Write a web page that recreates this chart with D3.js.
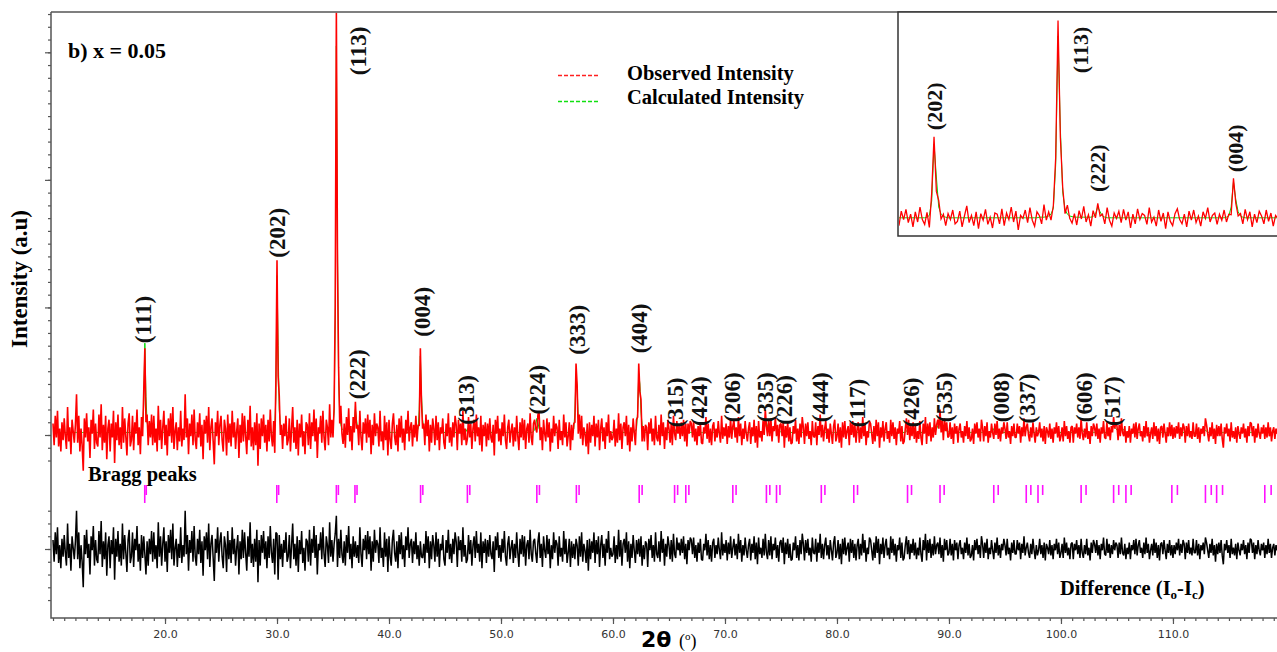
<!DOCTYPE html>
<html>
<head>
<meta charset="utf-8">
<script src="https://cdn.jsdelivr.net/npm/d3@7"></script>
<style>
body { margin: 0; background: #fff; }
svg { display: block; }
</style>
</head>
<body>
<script>
// 2theta grid of the pattern (degrees)
var start2Theta = 10.0;
var step2Theta = 0.1;

// calculated intensity, one row per degree (10.0 .. 119.9), a.u.
var calcIntensity = [
/*10*/ 2,2,2,2,2,2,2,2,2,2,
/*11*/ 2,2,2,2,2,2,2,2,2,2,
/*12*/ 2,2,2,2,2,2,2,2,2,2,
/*13*/ 2,2,2,2,2,2,2,2,2,2,
/*14*/ 2,2,2,2,2,2,2,2,2,2,
/*15*/ 2,2,2,2,2,2,2,2,2,2,
/*16*/ 2,2,2,2,2,2,2,2,2,2,
/*17*/ 2,2,2,2,2,2,2,2,2,3,
/*18*/ 6,24,72,30,10,5,3,2,2,2,
/*19*/ 2,2,2,2,2,2,2,2,2,2,
/*20*/ 2,2,2,2,2,2,2,2,2,2,
/*21*/ 2,2,2,2,2,2,2,2,2,2,
/*22*/ 2,2,2,2,2,2,2,2,2,2,
/*23*/ 2,2,2,2,2,2,2,2,2,2,
/*24*/ 2,2,2,2,2,2,2,2,2,2,
/*25*/ 2,2,2,2,2,2,2,2,2,2,
/*26*/ 2,2,2,2,2,2,2,2,2,2,
/*27*/ 2,2,2,2,2,2,2,2,2,2,
/*28*/ 2,2,2,2,2,2,2,2,2,2,
/*29*/ 2,2,2,2,2,2,2,3,6,30,
/*30*/ 125,70,20,8,4,3,2,2,2,2,
/*31*/ 2,2,2,2,2,2,2,2,2,2,
/*32*/ 2,2,2,2,2,2,2,2,2,2,
/*33*/ 2,2,2,2,2,2,2,2,2,2,
/*34*/ 2,2,2,2,2,3,3,3,4,5,
/*35*/ 8,18,90,305,150,45,16,8,5,4,
/*36*/ 3,3,3,3,3,3,3,3,4,8,
/*37*/ 20,12,5,3,2,2,2,2,2,2,
/*38*/ 2,2,2,2,2,2,2,2,2,2,
/*39*/ 2,2,2,2,2,2,2,2,2,2,
/*40*/ 2,2,2,2,2,2,2,2,2,2,
/*41*/ 2,2,2,2,2,2,2,2,2,2,
/*42*/ 2,2,2,2,2,3,5,20,62,32,
/*43*/ 12,5,3,2,2,2,2,2,2,2,
/*44*/ 2,2,2,2,2,2,2,2,2,2,
/*45*/ 2,2,2,2,2,2,2,2,2,2,
/*46*/ 2,2,2,2,2,2,2,2,2,3,
/*47*/ 5,3,2,2,2,2,2,2,2,2,
/*48*/ 2,2,2,2,2,2,2,2,2,2,
/*49*/ 2,2,2,2,2,2,2,2,2,2,
/*50*/ 2,2,2,2,2,2,2,2,2,2,
/*51*/ 2,2,2,2,2,2,2,2,2,2,
/*52*/ 2,2,2,2,2,2,2,2,2,3,
/*53*/ 4,8,13,10,5,3,2,2,2,2,
/*54*/ 2,2,2,2,2,2,2,2,2,2,
/*55*/ 2,2,2,2,2,2,2,2,2,2,
/*56*/ 2,2,2,2,3,5,18,48,36,14,
/*57*/ 6,3,2,2,2,2,2,2,2,2,
/*58*/ 2,2,2,2,2,2,2,2,2,2,
/*59*/ 2,2,2,2,2,2,2,2,2,2,
/*60*/ 2,2,2,2,2,2,2,2,2,2,
/*61*/ 2,2,2,2,2,2,2,2,2,3,
/*62*/ 3,5,18,48,40,18,8,4,3,2,
/*63*/ 2,2,2,2,2,2,2,2,2,2,
/*64*/ 2,2,2,2,2,2,2,2,2,2,
/*65*/ 2,2,2,2,3,5,3,2,2,2,
/*66*/ 2,2,2,2,3,5,3,2,2,2,
/*67*/ 2,2,2,2,2,2,2,2,2,2,
/*68*/ 2,2,2,2,2,2,2,2,2,2,
/*69*/ 2,2,2,2,2,2,2,2,2,2,
/*70*/ 2,2,2,2,2,3,4,6,4,3,
/*71*/ 2,2,2,2,2,2,2,2,2,2,
/*72*/ 2,2,2,2,2,2,2,2,2,2,
/*73*/ 2,2,2,2,3,5,8,10,7,5,
/*74*/ 4,3,3,3,4,5,6,5,4,3,
/*75*/ 2,2,2,2,2,2,2,2,2,2,
/*76*/ 2,2,2,2,2,2,2,2,2,2,
/*77*/ 2,2,2,2,2,2,2,2,2,2,
/*78*/ 2,2,2,2,3,4,5,4,3,2,
/*79*/ 2,2,2,2,2,2,2,2,2,2,
/*80*/ 2,2,2,2,2,2,2,2,2,2,
/*81*/ 2,2,2,3,4,5,4,3,2,2,
/*82*/ 2,2,2,2,2,2,2,2,2,2,
/*83*/ 2,2,2,2,2,2,2,2,2,2,
/*84*/ 2,2,2,2,2,2,2,2,2,2,
/*85*/ 2,2,2,2,2,2,2,2,2,2,
/*86*/ 2,2,3,4,5,4,3,2,2,2,
/*87*/ 2,2,2,2,2,2,2,2,2,2,
/*88*/ 2,2,2,2,2,2,3,3,4,5,
/*89*/ 7,9,11,9,8,6,5,4,3,3,
/*90*/ 2,2,2,2,2,2,2,2,2,2,
/*91*/ 2,2,2,2,2,2,2,2,2,2,
/*92*/ 2,2,2,2,2,2,2,2,2,2,
/*93*/ 2,2,2,2,2,2,2,2,2,3,
/*94*/ 5,4,3,2,2,2,2,2,2,2,
/*95*/ 2,2,2,2,2,2,2,2,2,2,
/*96*/ 2,2,2,2,2,2,2,3,4,5,
/*97*/ 4,3,2,2,2,2,2,2,3,4,
/*98*/ 3,2,2,2,2,2,2,2,2,2,
/*99*/ 2,2,2,2,2,2,2,2,2,2,
/*100*/ 2,2,2,2,2,2,2,2,2,2,
/*101*/ 2,2,2,2,2,2,3,4,5,4,
/*102*/ 3,2,2,2,2,2,2,2,2,2,
/*103*/ 2,2,2,2,2,2,2,2,2,2,
/*104*/ 2,2,2,2,3,4,6,7,6,5,
/*105*/ 4,3,3,3,4,5,4,3,2,2,
/*106*/ 2,2,2,2,2,2,2,2,2,2,
/*107*/ 2,2,2,2,2,2,2,2,2,2,
/*108*/ 2,2,2,2,2,2,2,2,2,2,
/*109*/ 2,2,2,2,2,2,2,3,4,5,
/*110*/ 4,3,2,2,2,2,2,2,2,2,
/*111*/ 2,2,2,2,2,2,2,2,2,2,
/*112*/ 2,2,2,2,2,2,2,2,3,4,
/*113*/ 3,2,2,2,2,2,2,2,3,4,
/*114*/ 3,2,2,2,2,2,2,2,2,2,
/*115*/ 2,2,2,2,2,2,2,2,2,2,
/*116*/ 2,2,2,2,2,2,2,2,2,2,
/*117*/ 2,2,2,2,2,2,2,2,2,2,
/*118*/ 2,3,4,3,2,2,2,2,2,2,
/*119*/ 2,2,2,2,2,2,2,2,2,2
];

// difference Io - Ic on the same grid, a.u.
var differenceValues = [
/*10*/ 7,-10,13,-4,17,-11,3,-15,8,-6,
/*11*/ 11,-3,-13,20,-7,4,-17,10,1,-8,
/*12*/ 6,30,-8,13,-15,3,-10,-30,11,-4,
/*13*/ 15,-7,4,-20,10,-1,18,-13,7,-8,
/*14*/ -11,14,-4,22,-14,6,-8,13,-21,3,
/*15*/ 10,-15,7,-4,17,-24,8,-6,14,-10,
/*16*/ 4,-13,20,-8,11,-3,-18,7,15,-11,
/*17*/ -6,13,-14,8,-1,18,-10,4,-17,11,
/*18*/ -7,10,-4,-20,6,-13,8,-4,14,-10,
/*19*/ 13,-8,3,-15,21,-6,10,-13,4,17,
/*20*/ -10,6,-18,11,-3,15,-8,20,-13,1,
/*21*/ 8,-14,4,-7,17,-11,3,-6,30,-4,
/*22*/ 11,-17,7,-3,14,-10,18,-6,-13,8,
/*23*/ -4,15,-11,6,-21,10,-1,13,-8,20,
/*24*/ -14,4,11,-7,-25,8,-3,17,-10,6,
/*25*/ 13,-6,-15,10,3,-18,14,-8,7,-11,
/*26*/ 17,-4,8,-13,1,11,-20,6,-8,15,
/*27*/ -7,13,-3,-17,10,-6,21,-11,4,-14,
/*28*/ 8,-10,15,-26,7,-13,11,-3,14,-8,
/*29*/ 6,-15,10,-7,18,-3,-11,8,-20,13,
/*30*/ 12,-24,11,-8,4,-14,7,-3,13,-10,
/*31*/ -6,11,-15,3,20,-8,4,-13,10,-18,
/*32*/ 7,-4,14,-11,1,-17,8,6,-10,15,
/*33*/ -13,8,-3,18,-7,11,-20,4,-1,13,
/*34*/ -8,17,-4,-14,10,3,-11,21,-6,7,
/*35*/ -10,4,12,26,-14,8,-7,15,-4,-11,
/*36*/ 6,-13,11,-3,18,-8,4,-15,10,-6,
/*37*/ 6,-7,3,-11,17,-4,-14,8,-1,11,
/*38*/ -8,14,-4,10,-17,6,-10,15,-3,7,
/*39*/ 4,-11,17,-7,1,-14,13,-6,8,-18,
/*40*/ 10,-6,-13,7,15,-3,-10,6,-15,11,
/*41*/ -4,13,-8,3,-14,10,-1,17,-7,4,
/*42*/ 8,-11,6,-4,13,-8,3,-13,6,-6,
/*43*/ -7,4,-11,14,-3,10,-15,6,-8,11,
/*44*/ 3,-10,13,-6,8,-14,4,-1,11,-8,
/*45*/ -13,7,-3,15,-8,4,-11,8,-4,13,
/*46*/ 6,-14,10,-1,7,-10,17,-6,3,-11,
/*47*/ -8,11,-4,7,-13,3,10,-7,14,-3,
/*48*/ 4,-10,13,-15,6,-3,8,-11,7,-6,
/*49*/ 11,-4,-8,6,-18,10,-1,13,-7,3,
/*50*/ -10,8,-3,14,-6,-13,4,10,-8,1,
/*51*/ 7,-11,4,-7,13,-3,-14,8,-4,11,
/*52*/ -6,10,-13,3,7,-8,15,-4,-10,6,
/*53*/ 8,-3,-11,6,13,-7,4,-14,10,-1,
/*54*/ -7,11,-4,8,-15,3,-8,13,-3,7,
/*55*/ 4,-13,10,-6,1,-10,14,-4,8,-11,
/*56*/ -3,8,-14,6,-7,4,-8,8,3,-13,
/*57*/ 10,-6,13,-10,4,-1,-11,7,-17,8,
/*58*/ -8,6,-3,13,-11,7,-4,10,-14,3,
/*59*/ 11,-7,4,-13,8,-3,14,-8,1,-6,
/*60*/ -4,10,-11,3,-8,15,-6,7,-13,4,
/*61*/ 8,-3,13,-10,6,-15,4,-7,11,-1,
/*62*/ -11,7,-4,8,-6,10,-13,3,-8,6,
/*63*/ 4,-14,8,-1,11,-7,3,-10,13,-4,
/*64*/ -7,6,-10,14,-3,8,-13,4,-6,10,
/*65*/ 3,-8,7,-10,12,-4,-7,9,-1,5,
/*66*/ -5,8,-3,10,-8,4,-12,7,-1,9,
/*67*/ 7,-4,9,-7,3,-10,5,-3,8,-8,
/*68*/ -9,4,-1,12,-5,7,-8,3,-10,5,
/*69*/ 8,-7,3,-4,9,-1,-8,13,-5,4,
/*70*/ -3,7,-9,5,-4,10,-7,1,8,-5,
/*71*/ 4,-8,12,-3,7,-10,3,-5,9,-1,
/*72*/ -7,3,8,-9,4,-3,10,-8,5,-12,
/*73*/ 9,-4,1,-7,8,-5,12,-3,-8,7,
/*74*/ -5,10,-8,4,-1,9,-7,3,-10,5,
/*75*/ 7,-3,9,-12,5,-4,8,-7,4,-9,
/*76*/ -8,5,-1,10,-7,3,-9,7,-4,12,
/*77*/ 4,-9,7,-3,8,-5,1,-10,9,-3,
/*78*/ -4,8,-10,5,-3,12,-7,4,-8,3,
/*79*/ 9,-5,3,-8,7,-1,-9,5,10,-7,
/*80*/ -3,7,-8,4,-12,8,-4,9,-5,1,
/*81*/ 5,-10,8,-3,7,-7,4,-9,3,8,
/*82*/ -8,4,-5,12,-3,7,-10,1,-4,9,
/*83*/ 7,-1,-9,5,-7,10,-3,8,-12,4,
/*84*/ -4,9,-7,3,8,-5,1,-8,10,-3,
/*85*/ 8,-5,4,-10,3,-1,9,-7,5,-9,
/*86*/ -7,3,10,-4,7,-8,4,-3,8,-5,
/*87*/ 5,-8,1,-5,9,-4,-10,7,-1,12,
/*88*/ -9,7,-3,8,-7,4,-5,10,-4,3,
/*89*/ 5,-4,9,-7,3,-10,8,-1,7,-5,
/*90*/ -3,8,-5,4,-9,7,-1,5,-8,3,
/*91*/ 7,-4,1,-8,5,-3,9,-5,4,-7,
/*92*/ -5,3,-9,7,-1,8,-4,3,-7,10,
/*93*/ 4,-7,5,-3,8,-8,1,-4,7,-1,
/*94*/ -8,5,-3,9,-5,3,-7,4,-1,8,
/*95*/ 3,-5,8,-4,1,-9,5,-3,7,-4,
/*96*/ -4,7,-1,5,-8,4,-3,10,-5,1,
/*97*/ 5,-3,-7,4,-4,8,-1,-8,3,-5,
/*98*/ -1,8,-4,3,-7,5,-9,4,1,-4,
/*99*/ 7,-5,3,-8,4,-1,8,-4,5,-7,
/*100*/ -3,4,-7,9,-3,5,-5,1,-8,4,
/*101*/ 5,-8,4,-1,7,-4,3,-7,8,-3,
/*102*/ -7,3,-4,8,-5,1,-9,5,-3,7,
/*103*/ 4,-3,7,-5,3,-8,4,-1,9,-4,
/*104*/ -5,8,-3,4,-7,3,-4,7,-1,5,
/*105*/ 3,-7,5,-4,9,-3,-5,4,-8,1,
/*106*/ -4,5,-8,3,-1,7,-4,8,-5,3,
/*107*/ 7,-3,1,-7,5,-4,9,-3,4,-8,
/*108*/ -1,4,-5,8,-3,5,-7,3,-9,4,
/*109*/ 5,-4,7,-1,-8,4,-3,7,-5,3,
/*110*/ -7,3,-4,5,-1,8,-5,4,-3,7,
/*111*/ 4,-8,5,-3,7,-4,1,-5,8,-3,
/*112*/ -3,7,-5,4,-8,3,-1,5,-4,9,
/*113*/ 5,-1,-7,4,-3,8,-5,3,-10,4,
/*114*/ -4,5,-3,7,-5,-12,4,-1,7,-3,
/*115*/ 3,-7,8,-4,1,-5,4,-8,5,-1,
/*116*/ -5,4,-1,7,-4,3,-8,5,-3,8,
/*117*/ 7,-3,5,-8,3,-4,7,-1,-5,4,
/*118*/ -1,5,-7,3,-4,8,-3,4,-7,1,
/*119*/ 4,-5,3,-1,7,-4,5,-3,8,-5
];

// Bragg reflection positions (2theta, Ka1)
var braggPositions = [18.19, 29.98, 35.30, 36.96, 42.82, 47.0, 53.2, 56.73, 62.34,
  65.5, 66.5, 70.7, 73.7, 74.6, 78.6, 81.5, 86.3, 89.2, 94.0, 96.9, 97.95,
  101.8, 104.7, 105.8, 109.9, 112.9, 113.9, 118.2];

// hkl labels of the main pattern: text, 2theta, intensity at label foot
var hklNames = ["(111)", "(202)", "(113)", "(222)", "(004)", "(313)", "(224)", "(333)", "(404)",
  "(315)", "(424)", "(206)", "(335)", "(226)", "(444)", "(117)", "(426)", "(535)",
  "(008)", "(337)", "(606)", "(517)"];
var hkl2Theta = [18.1, 30.0, 37.23, 37.14, 42.95, 46.88, 53.21, 56.79, 62.32,
  65.54, 67.68, 70.63, 73.57, 75.27, 78.48, 81.79, 86.61, 89.55,
  94.64, 96.96, 102.05, 104.55];
var hklFoot = [72, 139, 282, 28, 77, 8, 16, 63, 64,
  6, 7, 10, 10, 8, 10, 6, 6, 10, 10, 9, 10, 7];

// inset labels
var insetNames = ["(202)", "(113)", "(222)", "(004)"];
var inset2Theta = [30.02, 36.28, 37.0, 42.9];
var insetFoot = [148, 243, 45, 78];

var W = 1277, H = 652;
var serif = "'Liberation Serif', 'Times New Roman', serif";

var svg = d3.select("body").append("svg")
  .attr("width", W)
  .attr("height", H)
  .style("font-family", serif);

var x = d3.scaleLinear().domain([9.82, 119.29]).range([51, 1277]);
var yObs = d3.scaleLinear().domain([0, 300]).range([435, 52.3]);
var yDiff = d3.scaleLinear().domain([0, 30]).range([549, 510.7]);

var xIn = d3.scaleLinear().domain([28.46, 44.66]).range([898, 1277]);
var yIn = d3.scaleLinear().domain([0, 300]).range([219, 39]);

var points = calcIntensity.map(function(c, i) {
  var d = differenceValues[i];
  return { t: start2Theta + i * step2Theta, calc: c, diff: d, obs: c + d };
});

var defs = svg.append("defs");
defs.append("clipPath").attr("id", "plotClip")
  .append("rect").attr("x", 51).attr("y", 12).attr("width", W - 51).attr("height", 606);
defs.append("clipPath").attr("id", "insetClip")
  .append("rect").attr("x", 899).attr("y", 13).attr("width", W - 899).attr("height", 222);

// ---- main pattern
var plot = svg.append("g").attr("clip-path", "url(#plotClip)");

plot.append("path")
  .datum(points)
  .attr("fill", "none")
  .attr("stroke", "#00dd00")
  .attr("stroke-width", 1)
  .attr("d", d3.line().x(function(d) { return x(d.t); }).y(function(d) { return yObs(d.calc); }));

plot.append("path")
  .datum(points)
  .attr("fill", "none")
  .attr("stroke", "#ff0000")
  .attr("stroke-width", 1.6)
  .attr("stroke-linejoin", "bevel")
  .attr("d", d3.line().x(function(d) { return x(d.t); }).y(function(d) { return yObs(d.obs); }));

plot.append("path")
  .datum(points)
  .attr("fill", "none")
  .attr("stroke", "#000")
  .attr("stroke-width", 1.5)
  .attr("stroke-linejoin", "bevel")
  .attr("d", d3.line().x(function(d) { return x(d.t); }).y(function(d) { return yDiff(d.diff); }));

// Bragg ticks: Ka1 long, Ka2 short
var ka2Ratio = 1.54439 / 1.54056;
function ka2(t) {
  var s = Math.sin(t / 2 * Math.PI / 180) * ka2Ratio;
  return 2 * Math.asin(Math.min(s, 1)) * 180 / Math.PI;
}
var bragg = plot.append("g").attr("stroke", "#ff11ff").attr("stroke-width", 1.6);
bragg.selectAll("line.k1")
  .data(braggPositions)
  .enter()
  .append("line")
  .attr("class", "k1")
  .attr("x1", function(d) { return x(d); })
  .attr("x2", function(d) { return x(d); })
  .attr("y1", 485)
  .attr("y2", 503);
bragg.selectAll("line.k2")
  .data(braggPositions)
  .enter()
  .append("line")
  .attr("class", "k2")
  .attr("x1", function(d) { return x(ka2(d)) + 1; })
  .attr("x2", function(d) { return x(ka2(d)) + 1; })
  .attr("y1", 485)
  .attr("y2", 495);

// hkl labels
svg.append("g").selectAll("text")
  .data(hklNames)
  .enter()
  .append("text")
  .attr("transform", function(d, i) {
    return "translate(" + x(hkl2Theta[i]) + "," + yObs(hklFoot[i]) + ") rotate(-90)";
  })
  .attr("dy", "0.33em")
  .attr("font-size", "23px")
  .attr("font-weight", "bold")
  .attr("fill", "#111")
  .text(function(d) { return d; });

// ---- axes
var axisColor = "#555";
function styleAxis(g) {
  g.select(".domain").remove();
  g.selectAll(".tick line").attr("stroke", axisColor).attr("stroke-width", 1.2);
}

svg.append("g").attr("transform", "translate(51,0)")
  .call(d3.axisLeft(yObs).tickValues(d3.range(-20, 331, 10)).tickSize(3).tickFormat(""))
  .call(styleAxis);
svg.append("g").attr("transform", "translate(51,0)")
  .call(d3.axisLeft(yObs).tickValues([0, 100, 200, 300]).tickSize(6).tickFormat(""))
  .call(styleAxis);
svg.append("g").attr("transform", "translate(51,0)")
  .call(d3.axisLeft(yDiff).tickValues(d3.range(-40, 31, 10)).tickSize(3).tickFormat(""))
  .call(styleAxis);
svg.append("g").attr("transform", "translate(51,0)")
  .call(d3.axisLeft(yDiff).tickValues([0]).tickSize(6).tickFormat(""))
  .call(styleAxis);

svg.append("g").attr("transform", "translate(0,618)")
  .call(d3.axisBottom(x).tickValues(d3.range(10, 120, 1)).tickSize(3).tickFormat(""))
  .call(styleAxis);
var xMajor = svg.append("g").attr("transform", "translate(0,618)")
  .call(d3.axisBottom(x).tickValues(d3.range(20, 111, 10)).tickSize(6).tickPadding(6).tickFormat(d3.format(".1f")))
  .call(styleAxis);
xMajor.selectAll(".tick text")
  .attr("font-family", "'DejaVu Sans', Verdana, sans-serif")
  .attr("font-size", "11px")
  .attr("fill", "#333");

svg.append("path")
  .attr("d", "M51,12V618H1277M51,12H1277")
  .attr("fill", "none")
  .attr("stroke", axisColor)
  .attr("stroke-width", 1.5);

// ---- texts
svg.append("text")
  .attr("x", 68).attr("y", 58)
  .attr("font-size", "22px").attr("font-weight", "bold")
  .text("b) x = 0.05");

svg.append("text")
  .attr("transform", "translate(27,348) rotate(-90)")
  .attr("font-size", "23px").attr("font-weight", "bold")
  .text("Intensity (a.u)");

svg.append("text")
  .attr("x", 88).attr("y", 481)
  .attr("font-size", "20.5px").attr("font-weight", "bold")
  .text("Bragg peaks");

var diffLabel = svg.append("text")
  .attr("x", 1060).attr("y", 595)
  .attr("font-size", "20.5px").attr("font-weight", "bold");
diffLabel.append("tspan").text("Difference (I");
diffLabel.append("tspan").attr("font-size", "13px").attr("dy", 4).text("o");
diffLabel.append("tspan").attr("dy", -4).text("-I");
diffLabel.append("tspan").attr("font-size", "13px").attr("dy", 4).text("c");
diffLabel.append("tspan").attr("dy", -4).text(")");

var xTitle = svg.append("text").attr("x", 641).attr("y", 647);
xTitle.append("tspan")
  .attr("font-family", "'DejaVu Sans', Verdana, sans-serif")
  .attr("font-size", "22px").attr("font-weight", "bold")
  .text("2θ ");
xTitle.append("tspan").attr("font-size", "18px").text("(");
xTitle.append("tspan").attr("font-size", "11px").attr("dy", -7).text("o");
xTitle.append("tspan").attr("font-size", "18px").attr("dy", 7).text(")");

// legend
var legendItems = ["Observed Intensity", "Calculated Intensity"];
var legendColors = ["#ff2020", "#10e010"];
var legend = svg.append("g");
legend.selectAll("line")
  .data(legendItems)
  .enter()
  .append("line")
  .attr("x1", 558).attr("x2", 599)
  .attr("y1", function(d, i) { return 75.5 + i * 26; })
  .attr("y2", function(d, i) { return 75.5 + i * 26; })
  .attr("stroke", function(d, i) { return legendColors[i]; })
  .attr("stroke-width", 1.3)
  .attr("stroke-dasharray", "4,2");
legend.selectAll("text")
  .data(legendItems)
  .enter()
  .append("text")
  .attr("x", 627)
  .attr("y", function(d, i) { return 80 + i * 24; })
  .attr("font-size", "20.5px").attr("font-weight", "bold")
  .text(function(d) { return d; });

// ---- inset
var inset = svg.append("g");
inset.append("rect")
  .attr("x", 898).attr("y", 12).attr("width", W - 898 + 5).attr("height", 224)
  .attr("fill", "#fff").attr("stroke", "#333").attr("stroke-width", 1.5);

var insetPts = points.filter(function(d) { return d.t >= 28.2 && d.t <= 45; });
var insetPlot = inset.append("g").attr("clip-path", "url(#insetClip)");
insetPlot.append("path")
  .datum(insetPts)
  .attr("fill", "none")
  .attr("stroke", "#00dd00")
  .attr("stroke-width", 1)
  .attr("d", d3.line().x(function(d) { return xIn(d.t); }).y(function(d) { return yIn(d.calc); }));
insetPlot.append("path")
  .datum(insetPts)
  .attr("fill", "none")
  .attr("stroke", "#ff0000")
  .attr("stroke-width", 1.3)
  .attr("d", d3.line().x(function(d) { return xIn(d.t); }).y(function(d) { return yIn(d.obs); }));

inset.selectAll("text")
  .data(insetNames)
  .enter()
  .append("text")
  .attr("transform", function(d, i) {
    return "translate(" + xIn(inset2Theta[i]) + "," + yIn(insetFoot[i]) + ") rotate(-90)";
  })
  .attr("dy", "0.33em")
  .attr("font-size", "22px")
  .attr("font-weight", "bold")
  .attr("fill", "#111")
  .text(function(d) { return d; });
</script>
</body>
</html>
